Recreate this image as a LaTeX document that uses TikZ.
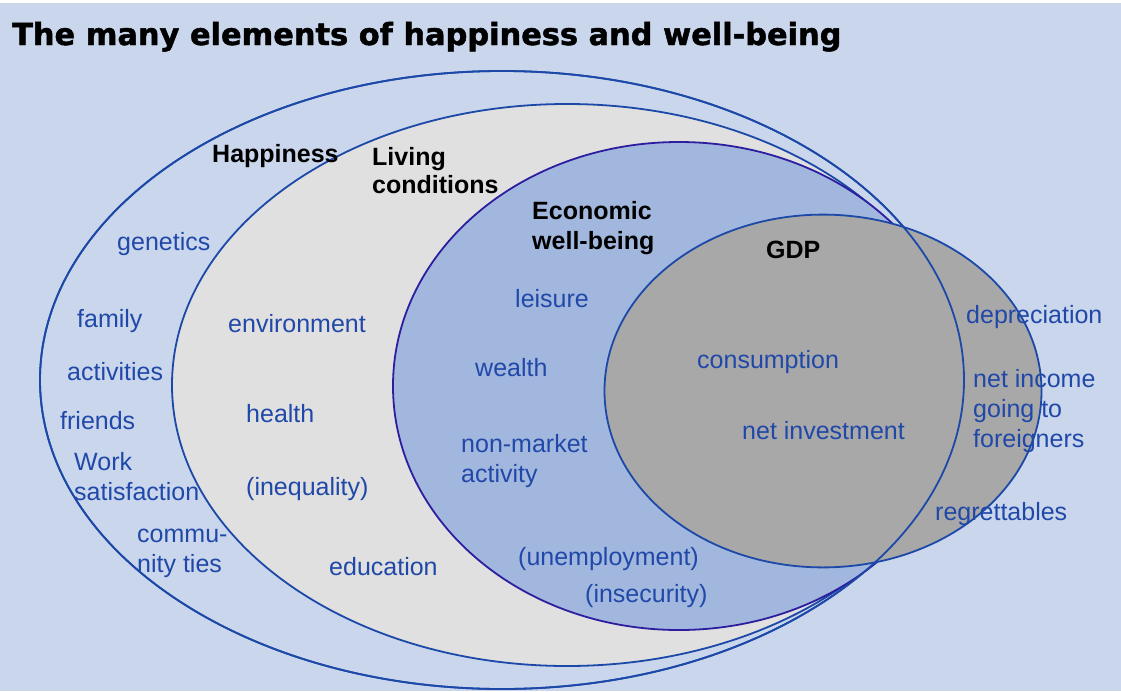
\documentclass[tikz,border=0pt]{standalone}
\usepackage{fontspec}
\setmainfont{Liberation Sans}
\newfontfamily\titlefont[BoldFeatures={FakeBold=1.6}]{DejaVu Sans}
\definecolor{bgblue}{RGB}{201,214,236}
\definecolor{livfill}{RGB}{224,224,224}
\definecolor{ecofill}{RGB}{162,183,222}
\definecolor{gdpfill}{RGB}{168,168,168}
\definecolor{ringline}{RGB}{28,72,168}
\definecolor{ecoline}{RGB}{45,30,160}
\definecolor{labelblue}{RGB}{32,72,168}
\begin{document}
\begin{tikzpicture}[x=1pt,y=-1pt,
  ring/.style={draw=ringline,line width=1.8pt},
  item/.style={anchor=base west,inner sep=0pt,text=labelblue,font=\fontsize{25}{30}\selectfont},
  head/.style={anchor=base west,inner sep=0pt,text=black,font=\bfseries\fontsize{25}{30}\selectfont}]
\useasboundingbox (0,0) rectangle (1121,691);
\fill[bgblue] (0,0) rectangle (1121,691);
\fill[white] (0,0) rectangle (1121,3);
% sets
\draw[ring] (502,380) ellipse [x radius=462pt, y radius=309pt];
\filldraw[ring,fill=livfill] (567,385) ellipse [x radius=395pt, y radius=281pt];
\filldraw[ring,draw=ecoline,fill=ecofill] (679,386) ellipse [x radius=286pt, y radius=244pt];
\filldraw[ring,fill=gdpfill] (823,391) ellipse [x radius=218.5pt, y radius=176.4pt];
\draw[ring] (502,380) ellipse [x radius=462pt, y radius=309pt];
% title
\node[anchor=base west,inner sep=0pt,font=\titlefont\bfseries\fontsize{30.4}{36}\selectfont] (title) at (12,45) {The many elements of happiness and well-being};
% headings
\node[head] (happy) at (212,162) {Happiness};
\node[head] (liv1) at (372,165) {Living};
\node[head] (liv2) at (372,193) {conditions};
\node[head] (eco1) at (532,219) {Economic};
\node[head] (eco2) at (532,249) {well-being};
\node[head] (gdp) at (766,258) {GDP};
% happiness items
\node[item] (genetics) at (117,250) {genetics};
\node[item] (family) at (77,327) {family};
\node[item] (activities) at (67,380) {activities};
\node[item] (friends) at (60,429) {friends};
\node[item] (work1) at (74,470) {Work};
\node[item] (work2) at (74,500) {satisfaction};
\node[item] (comm1) at (137,542) {commu-};
\node[item] (comm2) at (137,572) {nity ties};
% living conditions items
\node[item] (environment) at (228,332) {environment};
\node[item] (health) at (246,422) {health};
\node[item] (inequality) at (246,495) {(inequality)};
\node[item] (education) at (329,575) {education};
% economic items
\node[item] (leisure) at (515,307) {leisure};
\node[item] (wealth) at (475,376) {wealth};
\node[item] (nonmkt1) at (461,452) {non-market};
\node[item] (nonmkt2) at (461,482) {activity};
\node[item] (unemp) at (518,565) {(unemployment)};
\node[item] (insec) at (585,602) {(insecurity)};
% GDP items
\node[item] (consumption) at (697,368) {consumption};
\node[item] (netinv) at (742,439) {net investment};
\node[item] (deprec) at (966,323) {depreciation};
\node[item] (netinc1) at (973,387) {net income};
\node[item] (netinc2) at (973,417) {going to};
\node[item] (netinc3) at (973,447) {foreigners};
\node[item] (regret) at (935,520) {regrettables};
\end{tikzpicture}
\end{document}
